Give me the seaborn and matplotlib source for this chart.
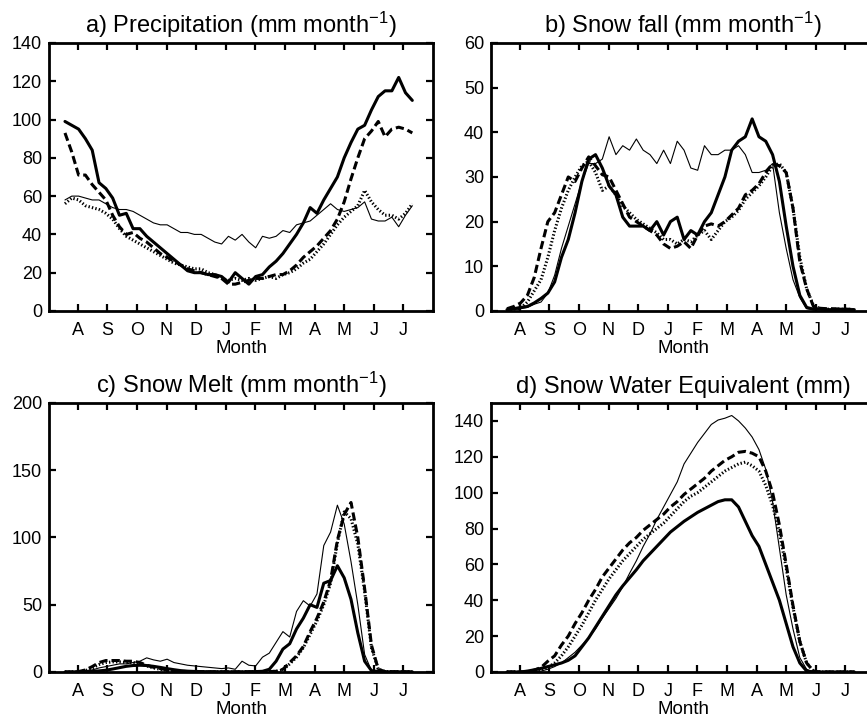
import numpy as np
import pandas as pd
import matplotlib
matplotlib.use("Agg")
import matplotlib.pyplot as plt
import seaborn as sns

# ---------------- data (weekly values, 52 weeks starting mid-July) ----------------
MONTH_LABELS = ["A", "S", "O", "N", "D", "J", "F", "M", "A", "M", "J", "J"]
WEEKS = np.arange(52)

# a) Precipitation (mm month-1)
PRECIP_THICK = [99, 97, 95, 90, 84, 67, 64, 59, 50, 51, 43, 43, 39, 36, 33, 30, 27, 24, 21, 20,
                20, 19, 19, 18, 15, 20, 17, 14, 18, 19, 23, 26, 30, 35, 40, 46, 54, 51, 58, 64,
                70, 80, 88, 95, 97, 105, 112, 115, 115, 122, 114, 110]
PRECIP_DASH = [93, 83, 71, 71, 66, 62, 58, 50, 44, 40, 41, 38, 36, 33, 30, 28, 26, 24, 22, 21,
               20, 19, 18, 17, 14, 14, 15, 16, 17, 17, 18, 19, 19, 21, 24, 28, 31, 34, 38, 42,
               48, 57, 69, 80, 90, 94, 99, 91, 95, 96, 95, 93]
PRECIP_DOT = [56, 59, 58, 55, 54, 53, 51, 48, 43, 39, 37, 35, 33, 31, 29, 27, 25, 24, 23, 22,
              22, 20, 19, 17, 16, 17, 16, 17, 16, 17, 18, 17, 19, 20, 22, 25, 27, 31, 35, 40,
              45, 49, 52, 55, 63, 57, 53, 50, 50, 48, 51, 56]
PRECIP_THIN = [58, 60, 60, 59, 58, 58, 56, 54, 53, 53, 52, 50, 48, 46, 45, 45, 43, 41, 41, 40,
               40, 38, 36, 35, 39, 37, 40, 36, 33, 39, 38, 39, 42, 41, 45, 46, 47, 50, 53, 56,
               53, 52, 53, 54, 57, 48, 47, 47, 49, 44, 50, 55]

# b) Snow fall (mm month-1)
SNOWFALL_THICK = [0.3, 0.5, 0.8, 1.0, 1.8, 2.8, 4.0, 6.5, 12, 16, 22, 29, 34, 35, 32, 28, 26, 21, 19, 19,
                  19, 18, 20, 17, 20, 21, 16, 18, 17, 20, 22, 26, 30, 36, 38, 39, 43, 39, 38, 35,
                  29, 19, 10, 3.5, 0.8, 0.4, 0.4, 0.3, 0.3, 0.4, 0.3, 0.3]
SNOWFALL_DASH = [0.5, 1.0, 1.8, 3.5, 7.5, 14, 20, 22, 26, 30, 29, 32, 34.5, 32.5, 30.5, 30, 27, 24, 21, 20,
                 19, 18, 17, 15, 14, 14.5, 15.5, 14, 17, 19, 19.5, 19, 20, 21.5, 23, 26, 27, 28.5, 31, 33,
                 32.5, 31, 23, 11, 5, 1, 0.6, 0.5, 0.5, 0.4, 0.4, 0.3]
SNOWFALL_DOT = [0.3, 0.4, 0.6, 2, 4.5, 7, 12, 18, 23, 27, 30, 32.5, 33.5, 31, 27, 28, 26, 23.5, 22, 20.5,
                19.5, 18.5, 17.5, 16, 16, 15, 16, 15.5, 17, 18, 16, 18, 20, 21, 22.5, 25, 26.5, 28, 30, 32.5,
                33, 31, 23, 12, 5, 1.2, 0.5, 0.4, 0.4, 0.4, 0.4, 0.3]
SNOWFALL_THIN = [0.2, 0.3, 0.5, 0.8, 1.5, 2, 4, 8, 14, 19, 24, 29, 33, 33, 34, 39, 35, 37, 36, 38.5,
                 36, 35, 33, 36, 33, 38, 36, 32, 31.5, 37, 35, 35, 36, 36, 37, 35, 31, 31, 31.5, 33,
                 22, 14, 7, 3, 0.5, 0.3, 0.3, 0.2, 0.2, 0.2, 0.2, 0.2]

# c) Snow Melt (mm month-1)
MELT_THICK = [0, 0, 0.2, 0.3, 0.5, 0.8, 1.3, 2.2, 3.2, 4.2, 4.8, 5, 4.8, 4.2, 3.4, 2.5, 1.7, 1.0, 0.6, 0.4,
              0.3, 0.2, 0.2, 0.1, 0.1, 0.1, 0.1, 0.2, 0.3, 0.5, 2, 8, 17, 21, 32, 40, 50, 48, 66, 68,
              79, 70, 54, 29, 8, 1, 0.3, 0.2, 0.1, 0.1, 0.1, 0.1]
MELT_DASH = [0, 0, 0.3, 1.5, 4, 7, 8.5, 8.5, 8.5, 8, 8, 7, 5, 3.5, 2.5, 1.5, 1, 0.5, 0.3, 0.2,
             0.2, 0.1, 0.1, 0.1, 0.1, 0.1, 0.1, 0.1, 0.1, 0.2, 0.3, 0.5, 2, 7, 12, 19, 30, 40, 52, 68,
             98, 117, 126, 100, 62, 20, 2, 0.3, 0.2, 0.2, 0.1, 0.1]
MELT_DOT = [0, 0, 0.2, 1, 3, 5.5, 7, 7.5, 7.5, 7, 7, 6, 4.5, 3, 2, 1.2, 0.8, 0.4, 0.2, 0.2,
            0.1, 0.1, 0.1, 0.1, 0.1, 0.1, 0.1, 0.1, 0.1, 0.2, 0.3, 0.5, 1.5, 6, 11, 18, 28, 38, 50, 66,
            96, 119, 114, 95, 60, 18, 2, 0.3, 0.2, 0.2, 0.1, 0.1]
MELT_THIN = [0, 0, 0.5, 1, 1.5, 3, 4, 5, 6, 6, 7, 8, 10.5, 9, 8, 9.5, 7, 6, 5, 4.5,
             4, 3.5, 3, 2.5, 3, 2, 8, 5, 4.5, 11, 14, 22, 30, 26, 45, 53, 49, 58, 94, 104,
             124, 110, 82, 50, 13, 1, 0.5, 0.3, 0.2, 0.2, 0.2, 0.2]

# d) Snow Water Equivalent (mm)
SWE_THICK = [0, 0, 0, 0.5, 1.2, 2, 3, 4, 5, 6.5, 9, 14, 19, 25, 31, 37, 43, 48, 52.5, 57,
             62, 66, 70, 74, 78, 81, 84, 86.5, 89, 91, 93, 95, 96, 96, 92, 84, 76, 70, 60, 50,
             40, 27, 14, 5, 0.5, 0, 0, 0, 0, 0, 0, 0]
SWE_DASH = [0, 0, 0, 0.3, 1, 2.5, 6, 9, 15, 20, 27, 33, 40, 46, 53, 58, 63, 68, 72, 75,
            79, 82, 85, 88, 92, 95, 99, 102, 105, 108, 112, 115, 118, 120, 122.5, 123, 122, 120, 112, 100,
            82, 60, 37, 17, 5, 0.5, 0, 0, 0, 0, 0, 0]
SWE_DOT = [0, 0, 0, 0, 0.3, 1, 2.5, 5, 9, 14, 20, 26, 33, 40, 46, 52, 57, 62, 66, 70,
           74, 77, 80, 83, 87, 91, 95, 98, 100, 103, 106, 109, 112, 114, 116, 117, 115, 112, 104, 93,
           78, 58, 36, 17, 5, 0.5, 0, 0, 0, 0, 0, 0]
SWE_THIN = [0, 0, 0, 0, 0.2, 0.5, 1.5, 3, 5, 8, 11, 15, 19, 24, 30, 35.5, 41, 47.5, 55, 62,
            70, 77, 85, 92, 99, 106, 116, 122, 128, 133, 138, 140.5, 141.5, 143, 140, 136, 131, 124, 113, 95,
            69, 43, 24, 8, 1.5, 0, 0, 0, 0, 0, 0, 0]

# ---------------- style ----------------
sns.set_theme(style="white")
plt.rcParams["font.family"] = ["Liberation Sans", "DejaVu Sans"]
plt.rcParams["mathtext.fontset"] = "custom"
plt.rcParams["mathtext.rm"] = "Liberation Sans"
plt.rcParams["mathtext.it"] = "Liberation Sans:italic"
plt.rcParams["mathtext.bf"] = "Liberation Sans:bold"
for k in ["text.color", "axes.labelcolor", "xtick.color", "ytick.color", "axes.edgecolor"]:
    plt.rcParams[k] = "black"

WEEKS_PER_MONTH = 365.25 / 12 / 7
FIRST_TICK = 1.87                      # position of first "A" tick in week units
TICK_POS = [FIRST_TICK + k * WEEKS_PER_MONTH for k in range(12)]
XLIM = (FIRST_TICK - 0.97 * WEEKS_PER_MONTH, FIRST_TICK + 12.0 * WEEKS_PER_MONTH)

THICK = 2.2
THIN = 0.8
STYLES = [
    ("thin", THIN, "-"),
    ("dot", THICK, (0, (0.45, 0.7))),
    ("dash", THICK, (0, (2.7, 1.3))),
    ("thick", THICK, "-"),
]

fig = plt.figure(figsize=(8.67, 7.21), dpi=100)
W = 0.443
positions = {
    "a": [0.0565, 0.5687, W, 0.3717],
    "b": [0.5663, 0.5687, W, 0.3717],
    "c": [0.0565, 0.0680, W, 0.3731],
    "d": [0.5663, 0.0680, W, 0.3731],
}

panels = [
    ("a", r"a) Precipitation (mm month$^{-1}$)",
     {"thick": PRECIP_THICK, "dash": PRECIP_DASH, "dot": PRECIP_DOT, "thin": PRECIP_THIN},
     (0, 140), np.arange(0, 141, 20)),
    ("b", r"b) Snow fall (mm month$^{-1}$)",
     {"thick": SNOWFALL_THICK, "dash": SNOWFALL_DASH, "dot": SNOWFALL_DOT, "thin": SNOWFALL_THIN},
     (0, 60), np.arange(0, 61, 10)),
    ("c", r"c) Snow Melt (mm month$^{-1}$)",
     {"thick": MELT_THICK, "dash": MELT_DASH, "dot": MELT_DOT, "thin": MELT_THIN},
     (0, 200), np.arange(0, 201, 50)),
    ("d", "d) Snow Water Equivalent (mm)",
     {"thick": SWE_THICK, "dash": SWE_DASH, "dot": SWE_DOT, "thin": SWE_THIN},
     (0, 150), np.arange(0, 141, 20)),
]

for key, title, series, ylim, yticks in panels:
    ax = fig.add_axes(positions[key])
    for name, lw, ls in STYLES:
        df = pd.DataFrame({"week": WEEKS, "value": series[name]})
        sns.lineplot(data=df, x="week", y="value", ax=ax, color="black",
                     linewidth=lw, linestyle=ls, estimator=None)
    ax.set_xlim(*XLIM)
    ax.set_ylim(*ylim)
    ax.set_xticks(TICK_POS)
    ax.set_xticklabels(MONTH_LABELS)
    ax.set_yticks(yticks)
    ax.set_xlabel("Month", fontsize=13.5, labelpad=1, color="black")
    ax.set_ylabel("")
    ax.set_title(title, fontsize=17, pad=7, color="black")
    for sp in ax.spines.values():
        sp.set_visible(True)
        sp.set_linewidth(2.0)
        sp.set_color("black")
    ax.tick_params(axis="both", direction="in", length=5, width=1.6, colors="black",
                   top=True, right=True, bottom=True, left=True, labelsize=13)
    ax.tick_params(axis="x", pad=8)
    ax.tick_params(axis="y", pad=5)
    ax.grid(False)

fig.savefig("out.png", dpi=100)
